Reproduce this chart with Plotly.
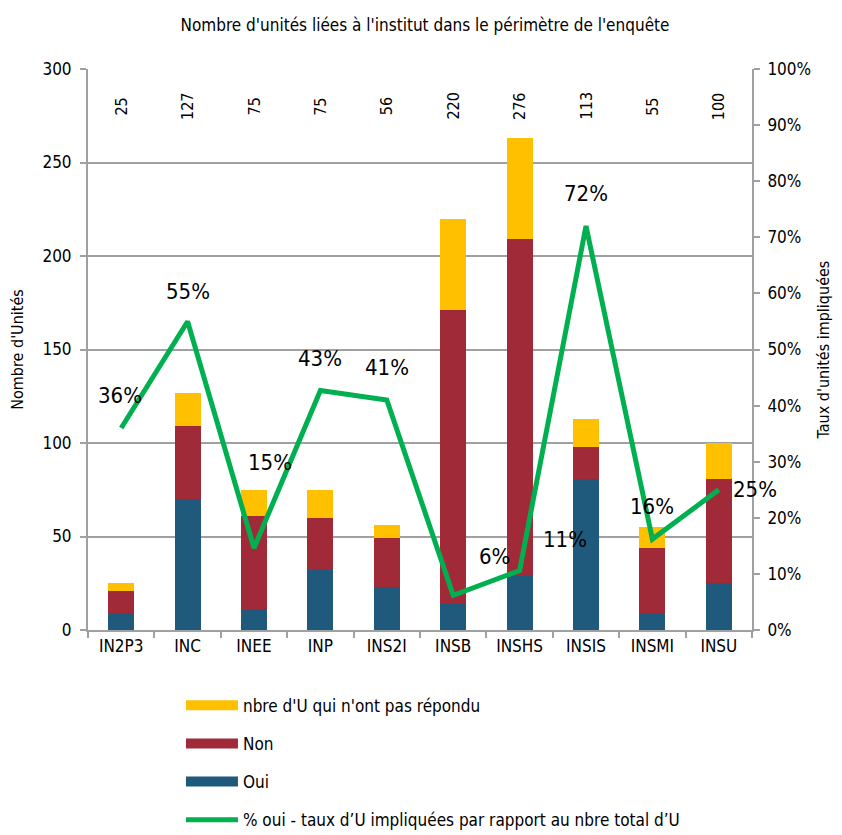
import plotly.graph_objects as go

categories = ["IN2P3", "INC", "INEE", "INP", "INS2I", "INSB", "INSHS", "INSIS", "INSMI", "INSU"]
oui = [9, 70, 11, 32, 23, 14, 29, 81, 9, 25]
non = [12, 39, 50, 28, 26, 157, 180, 17, 35, 56]
no_reply = [4, 18, 14, 15, 7, 49, 54, 15, 11, 19]
total_labels = ["25", "127", "75", "75", "56", "220", "276", "113", "55", "100"]
pct_oui = [0.36, 0.55, 0.146, 0.427, 0.41, 0.062, 0.106, 0.72, 0.162, 0.25]
pct_labels = ["36%", "55%", "15%", "43%", "41%", "6%", "11%", "72%", "16%", "25%"]

# label offsets in px (dx, dy)
label_offsets = [(-1, 33), (0, 30), (16, 86), (0, 32), (0, 32), (41, 39), (45, 31), (0, 33), (0, 33), (36, 0)]

FONT = "DejaVu Sans Condensed, Liberation Sans Narrow, Arial Narrow, sans-serif"
BLUE = "#1F5A7C"
RED = "#A12A38"
YELLOW = "#FFC000"
GREEN = "#00B050"
GRID = "#A0A0A0"

fig = go.Figure()
fig.add_trace(go.Bar(x=categories, y=oui, name="Oui", marker=dict(color=BLUE, line=dict(width=0)), showlegend=False))
fig.add_trace(go.Bar(x=categories, y=non, name="Non", marker=dict(color=RED, line=dict(width=0)), showlegend=False))
fig.add_trace(go.Bar(x=categories, y=no_reply, name="nbre d'U qui n'ont pas répondu", marker=dict(color=YELLOW, line=dict(width=0)), showlegend=False))
fig.add_trace(go.Scatter(x=categories, y=pct_oui, yaxis="y2", mode="lines", line=dict(color=GREEN, width=5),
                         name="% oui - taux d\u2019U impliquées par rapport au nbre total d\u2019U", showlegend=False))

legend_items = [("nbre d'U qui n'ont pas répondu", YELLOW, 10), ("Non", RED, 10), ("Oui", BLUE, 10),
                ("% oui - taux d\u2019U impliquées par rapport au nbre total d\u2019U", GREEN, 5)]
for i, (nm, col, w) in enumerate(legend_items):
    fig.add_trace(go.Scatter(x=[None], y=[None], mode="lines", line=dict(color=col, width=w), name=nm,
                             legendgroup=f"g{i}", showlegend=True))

annotations = []
for c, t in zip(categories, total_labels):
    annotations.append(dict(x=c, y=280, xref="x", yref="y", text=t, showarrow=False, textangle=-90,
                            font=dict(family=FONT, size=16, color="#000")))
for c, v, t, (dx, dy) in zip(categories, pct_oui, pct_labels, label_offsets):
    annotations.append(dict(x=c, y=v, xref="x", yref="y2", text=t, showarrow=False, xshift=dx, yshift=dy,
                            font=dict(family=FONT, size=22, color="#000")))

W, H = 834, 827
fig.update_layout(
    width=W, height=H,
    margin=dict(l=80, r=90, t=61, b=205, autoexpand=False),
    paper_bgcolor="white", plot_bgcolor="white",
    barmode="stack", bargap=0.61,
    font=dict(family=FONT, size=16, color="#000"),
    title=dict(text="Nombre d'unités liées à l'institut dans le périmètre de l'enquête", x=0.5, xanchor="center",
               y=1 - 17 / H, yanchor="middle", font=dict(family=FONT, size=17, color="#000")),
    xaxis=dict(automargin=False, type="category", categoryorder="array", categoryarray=categories,
               range=[-0.5, len(categories) - 0.5], showline=True, linecolor=GRID, linewidth=2,
               ticks="outside", tickson="boundaries", ticklen=6, tickcolor=GRID, tickwidth=2,
               tickfont=dict(size=17), showgrid=False),
    yaxis=dict(automargin=False, range=[0, 300], dtick=50, showline=True, linecolor=GRID, linewidth=2,
               ticks="outside", ticklen=6, tickcolor=GRID, tickwidth=2, showgrid=True, gridcolor=GRID,
               gridwidth=2, zeroline=False, tickfont=dict(size=17), ticklabelstandoff=5,
               title=dict(text="Nombre d'Unités", font=dict(size=16), standoff=15)),
    yaxis2=dict(automargin=False, range=[0, 1], dtick=0.1, tickformat=".0%", overlaying="y", side="right",
                showline=True, linecolor=GRID, linewidth=2, ticks="outside", ticklen=6, tickcolor=GRID,
                tickwidth=2, showgrid=False, zeroline=False, tickfont=dict(size=17), ticklabelstandoff=4,
                title=dict(text="Taux d'unités impliquées", font=dict(size=16), standoff=8)),
    legend=dict(orientation="v", x=0.14, xanchor="left", y=-0.103, yanchor="top", traceorder="grouped",
                tracegroupgap=13, itemwidth=52, font=dict(family=FONT, size=17, color="#000"),
                bgcolor="rgba(0,0,0,0)"),
    annotations=annotations,
)

fig.write_html("out.html")
